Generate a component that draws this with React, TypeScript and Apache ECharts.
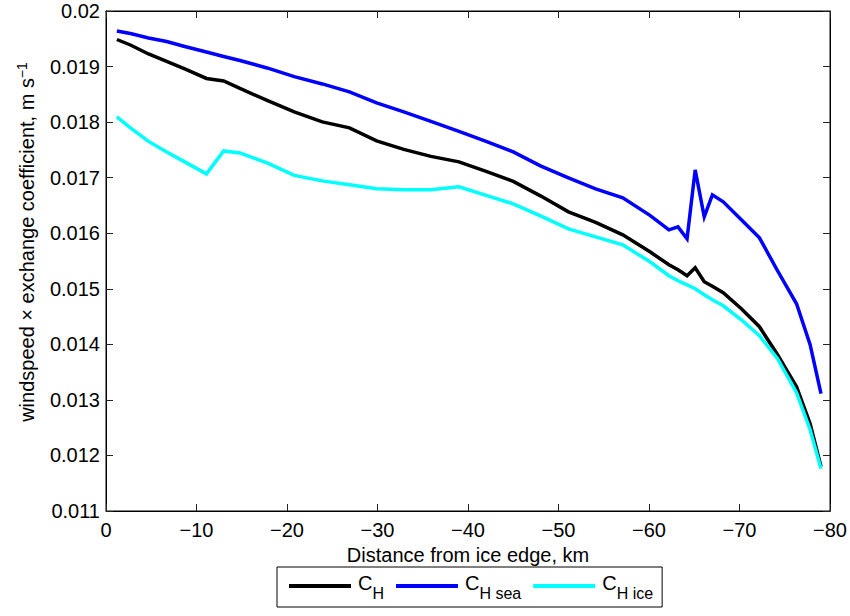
import React, { useEffect, useRef } from 'react';
import * as echarts from 'echarts';

// Distance from the ice edge (km, negative = into the ice)
const distanceKm = [
  -1.2, -2.7, -4.7, -6.7, -8.7, -11.1, -13.0, -14.8, -17.8, -20.8,
  -23.9, -26.9, -29.9, -32.9, -35.9, -39.0, -42.0, -45.0, -48.0, -51.1,
  -54.1, -57.1, -60.1, -62.2, -63.2, -64.2, -65.1, -66.1, -67.0, -68.2,
  -70.2, -72.2, -74.2, -76.3, -77.8, -79.0,
];

// windspeed x exchange coefficient (m s^-1), total
const chTotal = [
  0.019487, 0.019388, 0.019227, 0.019092, 0.018957, 0.018786, 0.018741, 0.018606, 0.01839, 0.018183,
  0.018004, 0.017896, 0.017662, 0.017509, 0.017383, 0.017284, 0.017113, 0.016933, 0.016673, 0.016385,
  0.016196, 0.015971, 0.015665, 0.015432, 0.015342, 0.015234, 0.015378, 0.015126, 0.015045, 0.014928,
  0.01464, 0.014317, 0.013813, 0.013237, 0.012572, 0.011799,
];

// open-water part
const chSea = [
  0.01964, 0.019595, 0.019514, 0.019451, 0.019361, 0.019263, 0.019182, 0.01911, 0.018975, 0.018818,
  0.018687, 0.018543, 0.018345, 0.018183, 0.018013, 0.017833, 0.017653, 0.017464, 0.017212, 0.016996,
  0.016799, 0.016637, 0.016322, 0.016061, 0.016115, 0.015899, 0.01714, 0.016295, 0.016691, 0.016565,
  0.016241, 0.015917, 0.015324, 0.01473, 0.013993, 0.013112,
];

// ice part
const chIce = [
  0.018094, 0.017896, 0.017653, 0.017464, 0.017284, 0.017068, 0.017482, 0.017446, 0.017266, 0.017041,
  0.016942, 0.016871, 0.016799, 0.016781, 0.016781, 0.016835, 0.016682, 0.016529, 0.016313, 0.016079,
  0.015935, 0.015791, 0.015486, 0.015234, 0.015144, 0.015072, 0.015, 0.014892, 0.014802, 0.014694,
  0.014442, 0.014155, 0.013741, 0.01313, 0.012464, 0.011763,
];

const legendSubscripts = ['H', 'H sea', 'H ice'];
const seriesColors = ['#000000', '#0000ff', '#00ffff'];
const seriesValues = [chTotal, chSea, chIce];

const FONT = '"Liberation Sans", Arial, Helvetica, sans-serif';

export default function App() {
  const ref = useRef<HTMLDivElement>(null);

  useEffect(() => {
    if (!ref.current) return;
    const chart = echarts.init(ref.current, null, { renderer: 'svg' });

    const fmtX = (v: number) => (v === 0 ? '0' : '\u2212' + Math.abs(v));
    const fmtY = (v: number) => String(parseFloat(v.toFixed(3)));

    const names = legendSubscripts.map((s) => 'C_' + s);

    const baseX = {
      type: 'value' as const,
      min: -80,
      max: 0,
      interval: 10,
      inverse: true,
      splitLine: { show: false },
      axisLine: { show: true, onZero: false, lineStyle: { color: '#000', width: 1 } },
      axisTick: { show: true, inside: true, length: 7, lineStyle: { color: '#222', width: 1 } },
    };
    const baseY = {
      type: 'value' as const,
      min: 0.011,
      max: 0.02,
      interval: 0.001,
      splitLine: { show: false },
      axisLine: { show: true, onZero: false, lineStyle: { color: '#000', width: 1 } },
      axisTick: { show: true, inside: true, length: 7, lineStyle: { color: '#222', width: 1 } },
    };

    chart.setOption({
      animation: false,
      backgroundColor: '#ffffff',
      grid: {
        left: 106,
        right: 15.5,
        top: 11,
        bottom: 105,
        show: true,
        borderColor: '#000',
        borderWidth: 1,
      },
      xAxis: [
        {
          ...baseX,
          position: 'bottom',
          name: 'Distance from ice edge, km',
          nameLocation: 'middle',
          nameGap: 33,
          nameTextStyle: { fontFamily: FONT, fontSize: 20, color: '#000' },
          axisLabel: { show: true, margin: 9, fontFamily: FONT, fontSize: 20, color: '#000', formatter: fmtX },
        },
        { ...baseX, position: 'top', axisLabel: { show: false } },
      ],
      yAxis: [
        {
          ...baseY,
          position: 'left',
          axisLabel: { show: true, margin: 6, fontFamily: FONT, fontSize: 20, color: '#000', formatter: fmtY },
        },
        { ...baseY, position: 'right', axisLabel: { show: false } },
      ],
      legend: {
        left: 277,
        top: 567,
        orient: 'horizontal',
        padding: [6, 9, 6, 12],
        borderColor: '#000',
        borderWidth: 1,
        backgroundColor: '#fff',
        itemWidth: 62,
        itemHeight: 4,
        itemGap: 12,
        icon: 'rect',
        data: names,
        formatter: (name: string) => `{c|C}{s|${name.slice(2)}}`,
        textStyle: {
          fontFamily: FONT,
          fontSize: 20,
          color: '#000',
          rich: {
            c: { fontFamily: FONT, fontSize: 20, color: '#000', lineHeight: 30, padding: [0, 0, 6, 2] },
            s: { fontFamily: FONT, fontSize: 16, color: '#000', lineHeight: 8, verticalAlign: 'bottom' },
          },
        },
      },
      graphic: [
        {
          type: 'text',
          x: 27,
          y: 242,
          rotation: Math.PI / 2,
          style: {
            text: '{m|windspeed \u00d7 exchange coefficient, m s}{p|\u22121}',
            align: 'center',
            verticalAlign: 'middle',
            fill: '#000',
            rich: {
              m: { fontFamily: FONT, fontSize: 20, fill: '#000', lineHeight: 24 },
              p: { fontFamily: FONT, fontSize: 14, fill: '#000', lineHeight: 10, verticalAlign: 'top' },
            },
          },
        },
      ],
      series: names.map((name, i) => ({
        name,
        type: 'line',
        xAxisIndex: 0,
        yAxisIndex: 0,
        showSymbol: false,
        symbol: 'none',
        color: seriesColors[i],
        itemStyle: { color: seriesColors[i] },
        lineStyle: { color: seriesColors[i], width: 3.5, join: 'miter' },
        data: distanceKm.map((d, k) => [d, seriesValues[i][k]]),
        z: 2 + i,
      })),
    });

    return () => chart.dispose();
  }, []);

  return (
    <div
      ref={ref}
      style={{ position: 'fixed', left: 0, top: 0, width: 850, height: 616 }}
    />
  );
}
